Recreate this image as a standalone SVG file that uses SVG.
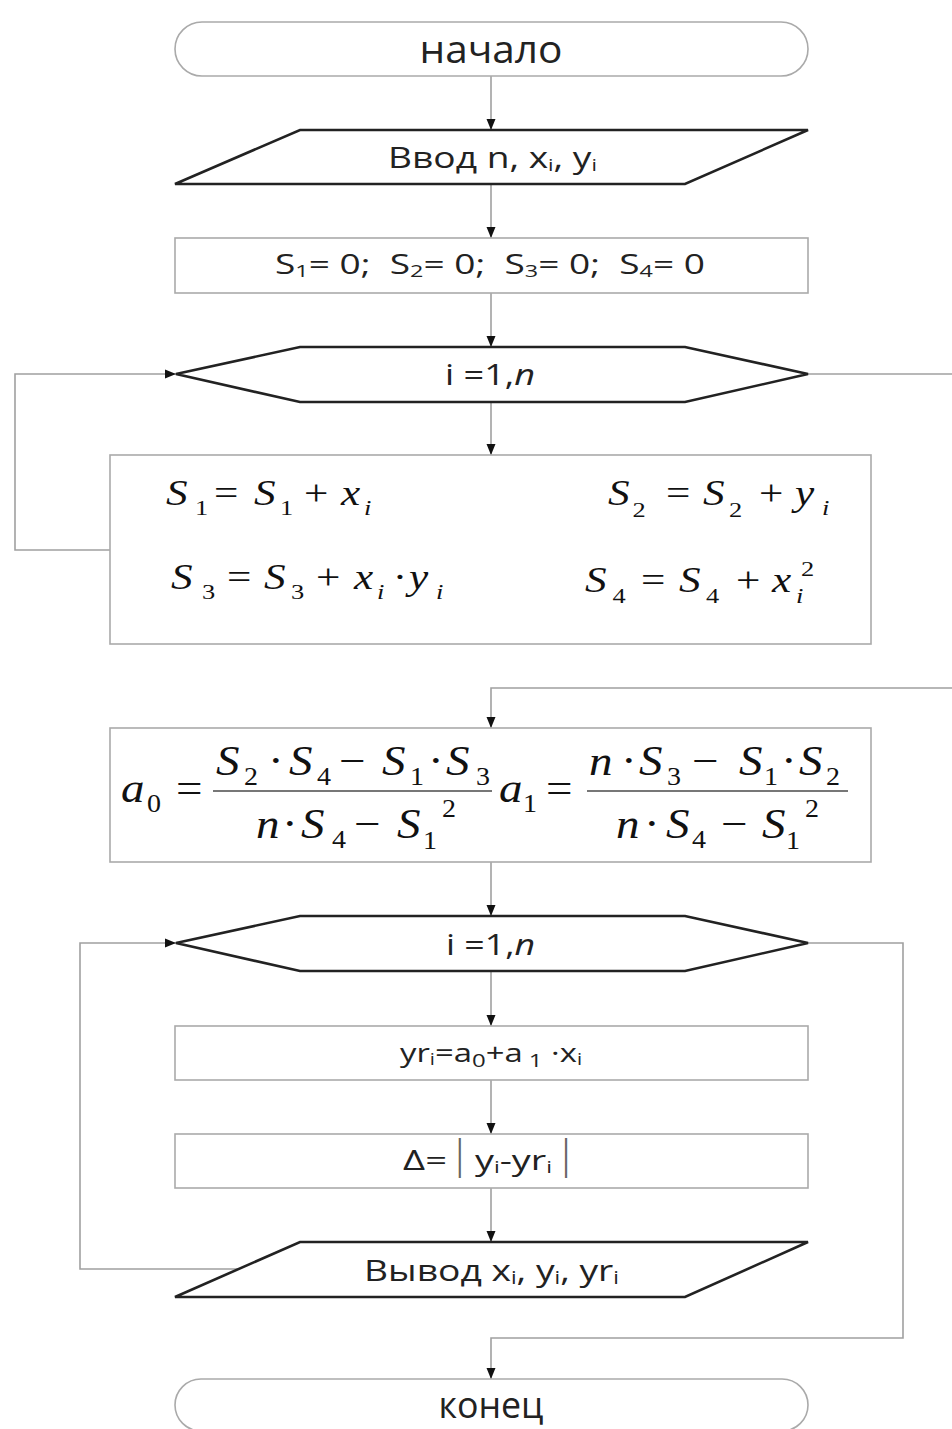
<svg xmlns="http://www.w3.org/2000/svg" width="952" height="1429" viewBox="0 0 952 1429">
<defs>
<style>
.term{fill:#fff;stroke:#aaa;stroke-width:1.6}
.proc{fill:#fff;stroke:#aaa;stroke-width:1.6}
.io{fill:#fff;stroke:#222;stroke-width:2.6}
.hex{fill:#fff;stroke:#222;stroke-width:2.6}
.conn{fill:none;stroke:#a0a0a0;stroke-width:1.6}
.t{font-family:"Open Sans","Noto Sans",sans-serif;fill:#222}
.m{font-family:"Liberation Serif","Times New Roman",serif;fill:#111}
.mi{font-style:italic}
.fl{stroke:#777;stroke-width:2.2}
.bar{font-family:"Liberation Sans",Arial,sans-serif;fill:#666}
</style>
<marker id="ah" markerUnits="userSpaceOnUse" markerWidth="12" markerHeight="10" refX="11" refY="5" orient="auto">
<path d="M0,0.5 L11,5 L0,9.5 z" fill="#111"/>
</marker>
</defs>
<rect width="952" height="1429" fill="#fff"/>

<g id="connectors">
<line class="conn" x1="491" y1="76" x2="491" y2="130" marker-end="url(#ah)"/>
<line class="conn" x1="491" y1="184" x2="491" y2="238" marker-end="url(#ah)"/>
<line class="conn" x1="491" y1="293" x2="491" y2="347" marker-end="url(#ah)"/>
<line class="conn" x1="491" y1="402" x2="491" y2="455" marker-end="url(#ah)"/>
<polyline class="conn" points="110,550 15,550 15,374 176,374" marker-end="url(#ah)"/>
<line class="conn" x1="808" y1="374" x2="952" y2="374"/>
<polyline class="conn" points="952,688 491,688 491,728" marker-end="url(#ah)"/>
<line class="conn" x1="491" y1="862" x2="491" y2="916" marker-end="url(#ah)"/>
<polyline class="conn" points="238,1269 80,1269 80,943 176,943" marker-end="url(#ah)"/>
<polyline class="conn" points="808,943 903,943 903,1338 491,1338 491,1379" marker-end="url(#ah)"/>
<line class="conn" x1="491" y1="971" x2="491" y2="1026" marker-end="url(#ah)"/>
<line class="conn" x1="491" y1="1080" x2="491" y2="1134" marker-end="url(#ah)"/>
<line class="conn" x1="491" y1="1188" x2="491" y2="1242" marker-end="url(#ah)"/>
</g>

<g id="start">
<rect class="term" x="175" y="22" width="633" height="54" rx="27" ry="27"/>
<text class="t" x="491" y="63" font-size="38" text-anchor="middle" textLength="143" lengthAdjust="spacingAndGlyphs">начало</text>
</g>

<g id="input">
<polygon class="io" points="300,130 808,130 685,184 175,184"/>
<text class="t" x="388" y="168" font-size="29" textLength="209" lengthAdjust="spacingAndGlyphs">Ввод n, x<tspan font-size="17" dy="3">i</tspan><tspan dy="-3">, y</tspan><tspan font-size="17" dy="3">i</tspan></text>
</g>

<g id="init">
<rect class="proc" x="175" y="238" width="633" height="55"/>
<text class="t" x="275" y="274" font-size="27" textLength="430" lengthAdjust="spacingAndGlyphs" xml:space="preserve">S<tspan font-size="17" dy="3">1</tspan><tspan dy="-3">= 0;  S</tspan><tspan font-size="17" dy="3">2</tspan><tspan dy="-3">= 0;  S</tspan><tspan font-size="17" dy="3">3</tspan><tspan dy="-3">= 0;  S</tspan><tspan font-size="17" dy="3">4</tspan><tspan dy="-3">= 0</tspan></text>
</g>

<g id="loop1">
<polygon class="hex" points="176,374 300,347 685,347 808,374 685,402 300,402"/>
<text class="t" x="445" y="385" font-size="30" textLength="90" lengthAdjust="spacingAndGlyphs">i =1,<tspan font-style="italic">n</tspan></text>
</g>

<g id="sums">
<rect class="proc" x="110" y="455" width="761" height="189"/>
<g transform="scale(1.2,1)">
<text class="m" font-size="36">
<tspan class="mi" x="138.3" y="505">S</tspan><tspan x="162.5" y="515" font-size="22">1</tspan><tspan x="178.3" y="505">=</tspan><tspan class="mi" x="211.7" y="505">S</tspan><tspan x="233.3" y="515" font-size="22">1</tspan><tspan x="253.3" y="505">+</tspan><tspan class="mi" x="284.2" y="505">x</tspan><tspan class="mi" x="303.3" y="515" font-size="22">i</tspan>
</text>
<text class="m" font-size="36">
<tspan class="mi" x="506.7" y="505">S</tspan><tspan x="527" y="517" font-size="22">2</tspan><tspan x="555" y="505">=</tspan><tspan class="mi" x="585.8" y="505">S</tspan><tspan x="607.5" y="517" font-size="22">2</tspan><tspan x="632.5" y="505">+</tspan><tspan class="mi" x="662.5" y="505">y</tspan><tspan class="mi" x="685" y="515" font-size="22">i</tspan>
</text>
<text class="m" font-size="36">
<tspan class="mi" x="142.5" y="589">S</tspan><tspan x="168.3" y="599" font-size="22">3</tspan><tspan x="189.2" y="589">=</tspan><tspan class="mi" x="220" y="589">S</tspan><tspan x="242.5" y="599" font-size="22">3</tspan><tspan x="263.3" y="589">+</tspan><tspan class="mi" x="295" y="589">x</tspan><tspan class="mi" x="314.2" y="599" font-size="22">i</tspan><tspan x="327.2" y="589">·</tspan><tspan class="mi" x="340.8" y="589">y</tspan><tspan class="mi" x="363.3" y="599" font-size="22">i</tspan>
</text>
<text class="m" font-size="36">
<tspan class="mi" x="487.5" y="592">S</tspan><tspan x="510.5" y="603" font-size="22">4</tspan><tspan x="534.2" y="592">=</tspan><tspan class="mi" x="565.8" y="592">S</tspan><tspan x="588.3" y="603" font-size="22">4</tspan><tspan x="613.3" y="592">+</tspan><tspan class="mi" x="643.3" y="592">x</tspan><tspan x="667.5" y="576" font-size="22">2</tspan><tspan class="mi" x="663.3" y="603" font-size="22">i</tspan>
</text>
</g>
</g>

<g id="coeffs">
<rect class="proc" x="110" y="728" width="761" height="134"/>
<line class="fl" x1="213" y1="791" x2="492" y2="791"/>
<line class="fl" x1="587" y1="791" x2="848" y2="791"/>
<g transform="scale(1.12,1)">
<text class="m" font-size="42">
<tspan class="mi" x="108" y="802">a</tspan><tspan x="131.3" y="812" font-size="25">0</tspan><tspan x="157.1" y="802">=</tspan>
</text>
<text class="m" font-size="42">
<tspan class="mi" x="192.9" y="775">S</tspan><tspan x="217.9" y="785" font-size="25">2</tspan><tspan x="239.3" y="775">·</tspan><tspan class="mi" x="258" y="775">S</tspan><tspan x="283" y="785" font-size="25">4</tspan><tspan x="302.7" y="775">−</tspan><tspan class="mi" x="341.1" y="775">S</tspan><tspan x="366.1" y="785" font-size="25">1</tspan><tspan x="382.1" y="775">·</tspan><tspan class="mi" x="398.2" y="775">S</tspan><tspan x="425" y="785" font-size="25">3</tspan>
</text>
<text class="m" font-size="42">
<tspan class="mi" x="228.6" y="838">n</tspan><tspan x="251.8" y="838">·</tspan><tspan class="mi" x="268.8" y="838">S</tspan><tspan x="296.4" y="848" font-size="25">4</tspan><tspan x="316.1" y="838">−</tspan><tspan class="mi" x="354.5" y="838">S</tspan><tspan x="377.7" y="849" font-size="25">1</tspan><tspan x="394.6" y="817" font-size="25">2</tspan>
</text>
<text class="m" font-size="42">
<tspan class="mi" x="445.5" y="802">a</tspan><tspan x="467" y="812" font-size="25">1</tspan><tspan x="487.5" y="802">=</tspan>
</text>
<text class="m" font-size="42">
<tspan class="mi" x="525.9" y="775">n</tspan><tspan x="554.5" y="775">·</tspan><tspan class="mi" x="570.5" y="775">S</tspan><tspan x="595.5" y="785" font-size="25">3</tspan><tspan x="617.9" y="775">−</tspan><tspan class="mi" x="659.8" y="775">S</tspan><tspan x="682.1" y="785" font-size="25">1</tspan><tspan x="697.3" y="775">·</tspan><tspan class="mi" x="713.4" y="775">S</tspan><tspan x="737.5" y="785" font-size="25">2</tspan>
</text>
<text class="m" font-size="42">
<tspan class="mi" x="550" y="838">n</tspan><tspan x="575" y="838">·</tspan><tspan class="mi" x="594.6" y="838">S</tspan><tspan x="617.9" y="848" font-size="25">4</tspan><tspan x="643.75" y="838">−</tspan><tspan class="mi" x="680.4" y="838">S</tspan><tspan x="701.8" y="849" font-size="25">1</tspan><tspan x="718.75" y="817" font-size="25">2</tspan>
</text>
</g>
</g>

<g id="loop2">
<polygon class="hex" points="176,943 300,916 685,916 808,943 685,971 300,971"/>
<text class="t" x="446" y="955" font-size="30" textLength="89" lengthAdjust="spacingAndGlyphs">i =1,<tspan font-style="italic">n</tspan></text>
</g>

<g id="yr">
<rect class="proc" x="175" y="1026" width="633" height="54"/>
<text class="t" x="400" y="1062" font-size="26" textLength="182" lengthAdjust="spacingAndGlyphs">yr<tspan font-size="16" dy="3">i</tspan><tspan dy="-3">=a</tspan><tspan font-size="19" dy="5">0</tspan><tspan dy="-5">+a</tspan><tspan font-size="19" dy="5"> 1</tspan><tspan dy="-5"> ·x</tspan><tspan font-size="16" dy="3">i</tspan></text>
</g>

<g id="delta">
<rect class="proc" x="175" y="1134" width="633" height="54"/>
<text class="t" x="403" y="1170" font-size="28" textLength="44" lengthAdjust="spacingAndGlyphs">Δ=</text>
<text class="bar" transform="scale(0.6,1)" x="761" y="1169" font-size="42">|</text>
<text class="t" x="475" y="1170" font-size="28" textLength="77" lengthAdjust="spacingAndGlyphs">y<tspan font-size="17" dy="3">i</tspan><tspan dy="-3">-yr</tspan><tspan font-size="17" dy="3">i</tspan></text>
<text class="bar" transform="scale(0.6,1)" x="938" y="1169" font-size="42">|</text>
</g>

<g id="output">
<polygon class="io" points="300,1242 808,1242 685,1297 175,1297"/>
<text class="t" x="364" y="1281" font-size="30" textLength="255" lengthAdjust="spacingAndGlyphs">Вывод x<tspan font-size="18" dy="3">i</tspan><tspan dy="-3">, y</tspan><tspan font-size="18" dy="3">i</tspan><tspan dy="-3">, yr</tspan><tspan font-size="18" dy="3">i</tspan></text>
</g>

<g id="end">
<rect class="term" x="175" y="1379" width="633" height="52" rx="26" ry="26"/>
<text class="t" x="491" y="1418" font-size="37" text-anchor="middle" textLength="105" lengthAdjust="spacingAndGlyphs">конец</text>
</g>
</svg>
